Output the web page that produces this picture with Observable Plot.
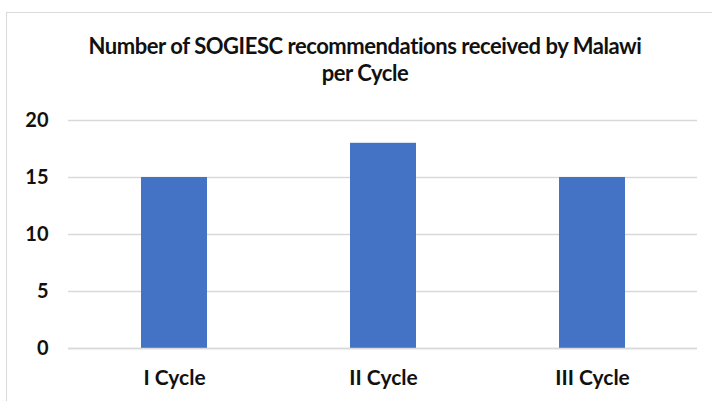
<!DOCTYPE html>
<html><head><meta charset="utf-8">
<script src="https://cdn.jsdelivr.net/npm/d3@7"></script>
<script src="https://cdn.jsdelivr.net/npm/@observablehq/plot@0.6"></script>
<style>
body{margin:0;background:#fff;font-family:Lato,sans-serif;}
#wrap{position:relative;width:712px;height:401px;overflow:hidden;}
#frame{position:absolute;left:6px;top:12px;width:720px;height:400px;border-top:1.5px solid #d9d9d9;border-left:1.5px solid #d9d9d9;}
#title{position:absolute;left:0;top:32px;width:730px;text-align:center;font-weight:700;font-size:22px;line-height:27px;color:#111;letter-spacing:-0.45px;}
#chart{position:absolute;left:0;top:100px;}
</style></head><body>
<div id="wrap"><div id="frame"></div>
<div id="title">Number of SOGIESC recommendations received by Malawi<br>per Cycle</div>
<div id="chart"></div></div>
<script>
const cycles = ["I Cycle", "II Cycle", "III Cycle"];
const counts = [15, 18, 15];
const yTicks = [0, 5, 10, 15, 20];
const data = cycles.map((c, i) => ({cycle: c, value: counts[i]}));
const plot = Plot.plot({
  width: 712, height: 301,
  marginLeft: 68, marginRight: 15, marginTop: 20, marginBottom: 53,
  style: {fontFamily: "Lato, sans-serif", fontWeight: 700, fontSize: "20px", color: "#111", background: "transparent"},
  x: {domain: cycles, paddingInner: 0.686, paddingOuter: 0.343, label: null, tickSize: 0, tickPadding: 22},
  y: {domain: [0, 20], ticks: yTicks, label: null, tickSize: 0, tickPadding: 20},
  marks: [
    Plot.gridY(yTicks, {stroke: "#d9d9d9", strokeOpacity: 1, strokeWidth: 1.5}),
    Plot.barY(data, {x: "cycle", y: "value", fill: "#4472C4"}),
    Plot.ruleY([0], {stroke: "#d9d9d9", strokeWidth: 1.5}),
    Plot.axisX({tickSize: 0, tickPadding: 22, fontSize: 21, label: null}),
    Plot.axisY({ticks: yTicks, tickSize: 0, tickPadding: 20, fontSize: 20, label: null})
  ]
});
document.getElementById("chart").appendChild(plot);
</script></body></html>
